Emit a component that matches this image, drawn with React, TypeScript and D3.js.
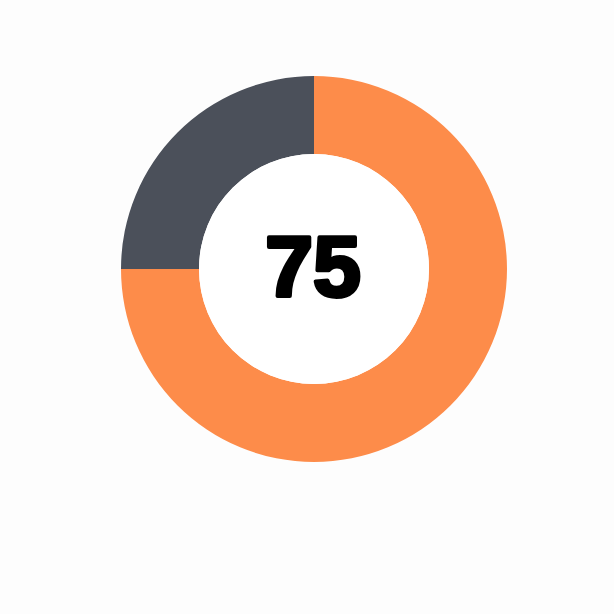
import React from 'react';
import * as d3 from 'd3';

// share shown in the centre and the remainder
const labels = ['value', 'rest'];
const values = [75, 25];
const colors = ['#fd8c4a', '#4b505a'];
const centerLabel = '75';

const App: React.FC = () => {
  const width = 614;
  const height = 614;
  const cx = 314;
  const cy = 269;
  const outerR = 193;
  const innerR = 115;

  const pie = d3
    .pie<number>()
    .sort(null)
    .value(d => d);

  const arc = d3
    .arc<d3.PieArcDatum<number>>()
    .innerRadius(innerR)
    .outerRadius(outerR);

  const arcs = pie(values);

  return (
    <svg
      width={width}
      height={height}
      style={{ position: 'fixed', left: 0, top: 0, background: '#fdfdfd' }}
    >
      <rect width={width} height={height} fill="#fdfdfd" />
      <g transform={`translate(${cx},${cy})`}>
        {arcs.map((a, i) => (
          <path key={labels[i]} d={arc(a) || ''} fill={colors[i]} />
        ))}
        <circle r={innerR} fill="#ffffff" />
        <text
          x={-1}
          y={-3}
          textAnchor="middle"
          dominantBaseline="central"
          style={{
            fontFamily: '"Liberation Sans", Arial, sans-serif',
            fontWeight: 700,
            fontSize: 86,
            fill: '#000',
            stroke: '#000',
            strokeWidth: 4,
            strokeLinejoin: 'round'
          }}
        >
          {centerLabel}
        </text>
      </g>
    </svg>
  );
};

export default App;
